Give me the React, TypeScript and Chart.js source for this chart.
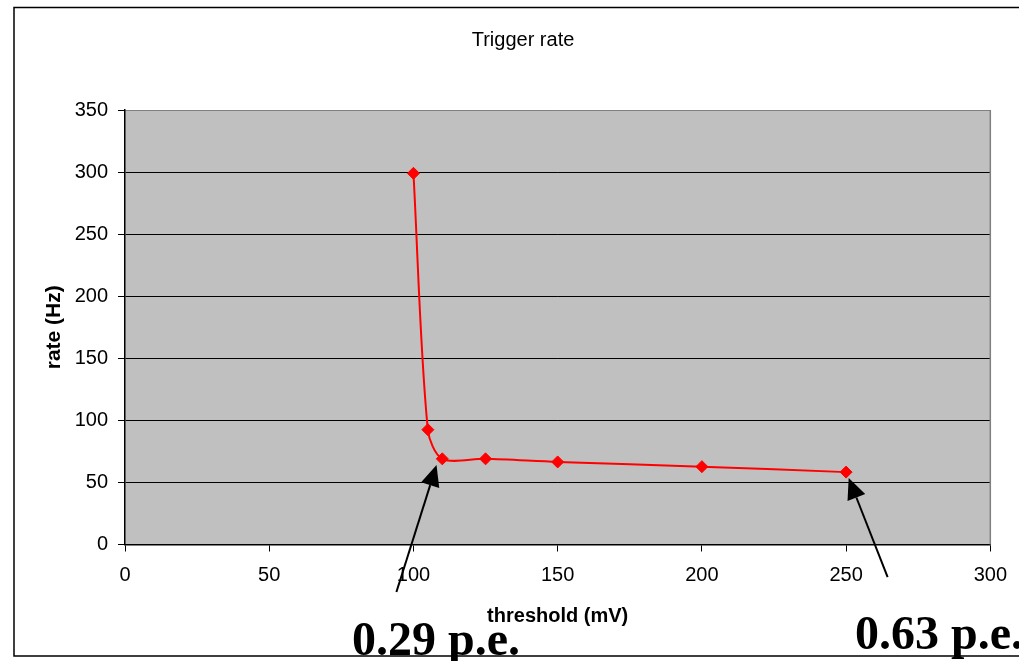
import React, { useEffect, useRef } from "react";
import { Chart, registerables } from "chart.js";

Chart.register(...registerables);

// ---- data ----
const thresholds = [100, 105, 110, 125, 150, 200, 250];
const rates = [299, 92.5, 69, 69, 66.5, 62.7, 58.3];

const xMin = 0;
const xMax = 300;
const xStep = 50;
const yMin = 0;
const yMax = 350;
const yStep = 50;

const titleText = "Trigger rate";
const xTitle = "threshold (mV)";
const yTitle = "rate (Hz)";

// annotation arrows (data coordinates) and their labels
const noteLabels = ["0.29 p.e.", "0.63 p.e."];
const arrowTails = [
  { x: 94.1, y: -38.3 },
  { x: 264.4, y: -26.2 },
];
const arrowTips = [
  { x: 108, y: 64 },
  { x: 250.9, y: 53.6 },
];

const W = 1019;
const H = 661;

const decor = {
  id: "decor",
  beforeDraw(chart: any) {
    const { ctx, chartArea: a } = chart;
    ctx.save();
    ctx.fillStyle = "#ffffff";
    ctx.fillRect(0, 0, chart.width, chart.height);
    ctx.fillStyle = "#C0C0C0";
    ctx.fillRect(a.left, a.top, a.right - a.left, a.bottom - a.top);
    ctx.restore();
  },
  afterDraw(chart: any) {
    const { ctx, chartArea: a, scales } = chart;
    ctx.save();
    // right border of plot area
    ctx.strokeStyle = "#808080";
    ctx.lineWidth = 1.5;
    ctx.beginPath();
    ctx.moveTo(a.right, a.top);
    ctx.lineTo(a.right, a.bottom);
    ctx.stroke();

    // outer frame (open on the right)
    ctx.strokeStyle = "#000";
    ctx.lineWidth = 1.5;
    ctx.beginPath();
    ctx.moveTo(chart.width + 2, 7.5);
    ctx.lineTo(14, 7.5);
    ctx.lineTo(14, 656);
    ctx.lineTo(chart.width + 2, 656);
    ctx.stroke();

    // arrows
    ctx.fillStyle = "#000";
    ctx.strokeStyle = "#000";
    for (let i = 0; i < arrowTips.length; i++) {
      const x1 = scales.x.getPixelForValue(arrowTails[i].x);
      const y1 = scales.y.getPixelForValue(arrowTails[i].y);
      const x2 = scales.x.getPixelForValue(arrowTips[i].x);
      const y2 = scales.y.getPixelForValue(arrowTips[i].y);
      const ang = Math.atan2(y2 - y1, x2 - x1);
      const L = 21;
      const hw = 9.5;
      const bx = x2 - L * Math.cos(ang);
      const by = y2 - L * Math.sin(ang);
      ctx.lineWidth = 2;
      ctx.beginPath();
      ctx.moveTo(x1, y1);
      ctx.lineTo(bx, by);
      ctx.stroke();
      ctx.beginPath();
      ctx.moveTo(x2, y2);
      ctx.lineTo(bx + hw * Math.sin(ang), by - hw * Math.cos(ang));
      ctx.lineTo(bx - hw * Math.sin(ang), by + hw * Math.cos(ang));
      ctx.closePath();
      ctx.fill();
    }

    // big labels
    ctx.font = 'bold 48px "Liberation Serif", "Times New Roman", serif';
    ctx.textAlign = "left";
    ctx.textBaseline = "alphabetic";
    ctx.fillText(noteLabels[0], 352, 655);
    ctx.fillText(noteLabels[1], 855, 649);
    ctx.restore();
  },
};

export default function App() {
  const ref = useRef<HTMLCanvasElement | null>(null);

  useEffect(() => {
    if (!ref.current) return;
    const font = '"Liberation Sans", Arial, sans-serif';
    const chart = new Chart(ref.current, {
      type: "line",
      data: {
        datasets: [
          {
            data: thresholds.map((t, i) => ({ x: t, y: rates[i] })),
            borderColor: "#FF0000",
            backgroundColor: "#FF0000",
            borderWidth: 2,
            tension: 0.3,
            pointStyle: "rectRot",
            pointRadius: 6,
            pointBackgroundColor: "#FF0000",
            pointBorderColor: "#FF0000",
            pointBorderWidth: 1,
            fill: false,
          },
        ],
      },
      options: {
        responsive: false,
        animation: false,
        devicePixelRatio: 1,
        layout: { padding: { left: 54, top: 0, right: 27, bottom: 26.5 } },
        plugins: {
          legend: { display: false },
          tooltip: { enabled: false },
          title: {
            display: true,
            text: titleText,
            color: "#000",
            font: { family: font, size: 20, weight: "normal", lineHeight: 1.2 },
            padding: { top: 28, bottom: 58 },
          },
        },
        scales: {
          x: {
            type: "linear",
            min: xMin,
            max: xMax,
            afterFit: (s: any) => {
              s.height = 90;
            },
            ticks: {
              stepSize: xStep,
              color: "#000",
              padding: 12,
              maxRotation: 0,
              font: { family: font, size: 20, lineHeight: 1.2 },
            },
            grid: {
              drawOnChartArea: false,
              drawTicks: true,
              tickLength: 7,
              color: "#000",
              tickColor: "#000",
            },
            border: { display: true, color: "#000", width: 1.5 },
            title: {
              display: true,
              text: xTitle,
              color: "#000",
              font: { family: font, size: 20, weight: "bold", lineHeight: 1.2 },
              padding: { top: 0, bottom: 6 },
            },
          },
          y: {
            type: "linear",
            min: yMin,
            max: yMax,
            afterFit: (s: any) => {
              s.width = 71;
            },
            ticks: {
              stepSize: yStep,
              color: "#000",
              padding: 10,
              font: { family: font, size: 20, lineHeight: 1.2 },
            },
            grid: {
              drawTicks: true,
              tickLength: 7,
              lineWidth: 1,
              color: (c: any) => (c.tick && c.tick.value === yMax ? "#808080" : "#000"),
              tickColor: "#000",
            },
            border: { display: true, color: "#000", width: 1.5 },
            title: {
              display: true,
              text: yTitle,
              color: "#000",
              font: { family: font, size: 21, weight: "bold", lineHeight: 1.2 },
              padding: { top: -12.6, bottom: 0 },
            },
          },
        },
      },
      plugins: [decor],
    } as any);
    return () => chart.destroy();
  }, []);

  return (
    <div style={{ position: "fixed", left: 0, top: 0, width: W, height: H, background: "#fff" }}>
      <canvas ref={ref} width={W} height={H} style={{ display: "block", width: W, height: H }} />
    </div>
  );
}
